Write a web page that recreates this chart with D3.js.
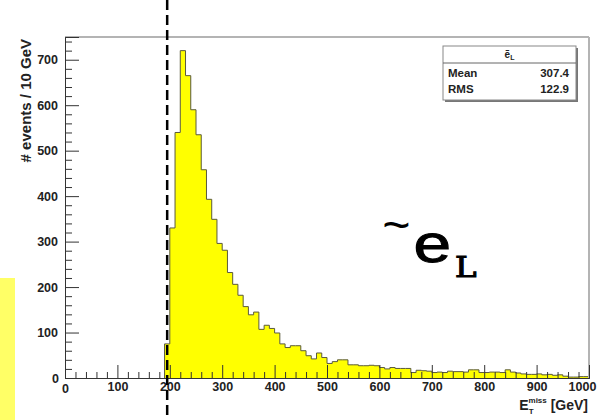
<!DOCTYPE html>
<html>
<head>
<meta charset="utf-8">
<script src="https://cdn.jsdelivr.net/npm/d3@7"></script>
<style>
  html, body { margin: 0; padding: 0; background: #fff; }
  svg { display: block; font-family: "Liberation Sans", Arial, Helvetica, sans-serif; }
  .mono { font-family: "Liberation Mono", "Courier New", monospace; }
  .slab { font-family: "DejaVu Serif", "Courier New", serif; }
</style>
</head>
<body>
<svg id="chart" width="608" height="420"></svg>
<script>
// Missing transverse energy for the left-handed selectron sample, 10 GeV bins
const binStart = 190;
const binWidth = 10;
const counts = [
  75, 330, 540, 720, 665, 590, 535, 458, 393, 349,
  296, 281, 232, 206, 182, 157, 139, 145, 107, 116,
  109, 99, 75, 67, 71, 71, 60, 49, 42, 55,
  45, 32, 36, 40, 40, 29, 29, 27, 27, 28,
  27, 23, 20, 23, 21, 21, 21, 12, 17, 16,
  15, 12, 13, 12, 15, 14, 14, 13, 18, 18,
  12, 12, 13, 13, 12, 18, 13, 11, 9, 8,
  8, 9, 7, 8, 6, 7, 4, 2, 2, 3,
  3
];
const xTicks = [0, 100, 200, 300, 400, 500, 600, 700, 800, 900, 1000];
const yTicks = [0, 100, 200, 300, 400, 500, 600, 700];
const cutValue = 195;
const statsRows = [["Mean", "307.4"], ["RMS", "122.9"]];

const svg = d3.select("#chart");
const x = d3.scaleLinear().domain([0, 1000]).range([65, 589]);
const y = d3.scaleLinear().domain([0, 750]).range([378, 37]);

// side highlight strip
svg.append("rect").attr("x", 0).attr("y", 278).attr("width", 15).attr("height", 142)
  .attr("fill", "#ffff66");

// histogram
const pts = counts.map((c, i) => [binStart + i * binWidth, c]);
pts.push([binStart + counts.length * binWidth, counts[counts.length - 1]]);

svg.append("path")
  .datum(pts)
  .attr("d", d3.area().x(d => x(d[0])).y0(y(0)).y1(d => y(d[1])).curve(d3.curveStepAfter))
  .attr("fill", "#ffff00");

const outline = [[binStart, 0]].concat(pts).concat([[pts[pts.length - 1][0], 0]]);
svg.append("path")
  .datum(outline)
  .attr("d", d3.line().x(d => x(d[0])).y(d => y(d[1])).curve(d3.curveStepAfter))
  .attr("fill", "none").attr("stroke", "#5a5a3c").attr("stroke-width", 1);

// frame top and right edges
svg.append("line").attr("x1", x(0)).attr("x2", x(1000)).attr("y1", y(750)).attr("y2", y(750))
  .attr("stroke", "#b4b4b4").attr("stroke-width", 2);
svg.append("line").attr("x1", x(1000)).attr("x2", x(1000)).attr("y1", y(750)).attr("y2", y(0))
  .attr("stroke", "#b4b4b4").attr("stroke-width", 2);

// axes: majors with labels, minors every 20
const minorX = d3.range(0, 1001, 20).filter(v => v % 100 !== 0);
const minorY = d3.range(0, 741, 20).filter(v => v % 100 !== 0);

const gxMinor = svg.append("g").attr("transform", `translate(0,${y(0)})`)
  .call(d3.axisBottom(x).tickValues(minorX).tickSize(-6).tickFormat(""));
const gx = svg.append("g").attr("transform", `translate(0,${y(0)})`)
  .call(d3.axisBottom(x).tickValues(xTicks).tickSize(-13).tickPadding(4).tickFormat(d3.format("d")));
const gyMinor = svg.append("g").attr("transform", `translate(${x(0)},0)`)
  .call(d3.axisLeft(y).tickValues(minorY).tickSize(-7).tickFormat(""));
const gy = svg.append("g").attr("transform", `translate(${x(0)},0)`)
  .call(d3.axisLeft(y).tickValues(yTicks).tickSize(-14).tickPadding(7).tickFormat(d3.format("d")));

[gx, gy, gxMinor, gyMinor].forEach(g => {
  g.attr("font-family", null);
  g.selectAll(".domain").attr("stroke", "#333").attr("stroke-width", 1);
  g.selectAll(".tick line").attr("stroke", "#333").attr("stroke-width", 1);
  g.selectAll("text").attr("font-size", 12.5).attr("font-weight", "bold").attr("fill", "#222");
});
gx.selectAll(".tick").filter(d => d === 1000).select("text").attr("dx", -7);
gx.selectAll(".tick").filter(d => d === 0).select("text").attr("dy", "0.85em");
gy.selectAll(".tick").filter(d => d === 0).select("text").attr("dx", 1);

// axis titles
svg.append("text")
  .attr("transform", `translate(31,39) rotate(-90)`)
  .attr("text-anchor", "end").attr("font-size", 15).attr("font-weight", "bold").attr("fill", "#222")
  .text("# events / 10 GeV");

const xt = svg.append("text").attr("x", 588).attr("y", 410).attr("text-anchor", "end")
  .attr("font-size", 14).attr("font-weight", "bold").attr("fill", "#222");
xt.append("tspan").text("E");
xt.append("tspan").attr("font-size", 8).attr("dy", 4).text("T");
xt.append("tspan").attr("font-size", 8).attr("dx", -5).attr("dy", -11).text("miss");
xt.append("tspan").attr("dy", 7).text(" [GeV]");

// selection cut
svg.append("line").attr("x1", x(cutValue)).attr("x2", x(cutValue)).attr("y1", 0).attr("y2", 420)
  .attr("stroke", "#000").attr("stroke-width", 2.5).attr("stroke-dasharray", "10,5");

// statistics box
const sb = { x: 443, y: 46, w: 133, h: 54 };
svg.append("rect").attr("x", sb.x + 2).attr("y", sb.y + 2).attr("width", sb.w).attr("height", sb.h)
  .attr("fill", "#777");
svg.append("rect").attr("x", sb.x).attr("y", sb.y).attr("width", sb.w).attr("height", sb.h)
  .attr("fill", "#fff").attr("stroke", "#888").attr("stroke-width", 1);
svg.append("line").attr("x1", sb.x).attr("x2", sb.x + sb.w).attr("y1", sb.y + 17).attr("y2", sb.y + 17)
  .attr("stroke", "#666").attr("stroke-width", 1);
const head = svg.append("text").attr("x", sb.x + sb.w / 2).attr("y", sb.y + 12).attr("text-anchor", "middle")
  .attr("font-size", 10).attr("font-weight", "bold").attr("fill", "#222");
head.append("tspan").text("ẽ");
head.append("tspan").attr("font-size", 7).attr("dy", 2).text("L");
statsRows.forEach((r, i) => {
  const ty = sb.y + 31 + i * 16;
  svg.append("text").attr("x", sb.x + 5).attr("y", ty).attr("font-size", 11.5).attr("font-weight", "bold")
    .attr("fill", "#222").text(r[0]);
  svg.append("text").attr("x", sb.x + sb.w - 7).attr("y", ty).attr("text-anchor", "end")
    .attr("font-size", 11.5).attr("font-weight", "bold").attr("fill", "#222").text(r[1]);
});

// particle label
const lab = svg.append("g").attr("fill", "#000");
lab.append("text").attr("class", "mono").attr("transform", "translate(382,241)")
  .attr("font-size", 48).text("~");
lab.append("text").attr("class", "mono").attr("transform", "translate(412,262) scale(1.3,1)")
  .attr("font-size", 52).attr("stroke", "#000").attr("stroke-width", 1).text("e");
lab.append("text").attr("class", "slab").attr("transform", "translate(455,277) scale(1.2,1)")
  .attr("font-size", 27).attr("stroke", "#000").attr("stroke-width", 1.1).text("L");
</script>
</body>
</html>
